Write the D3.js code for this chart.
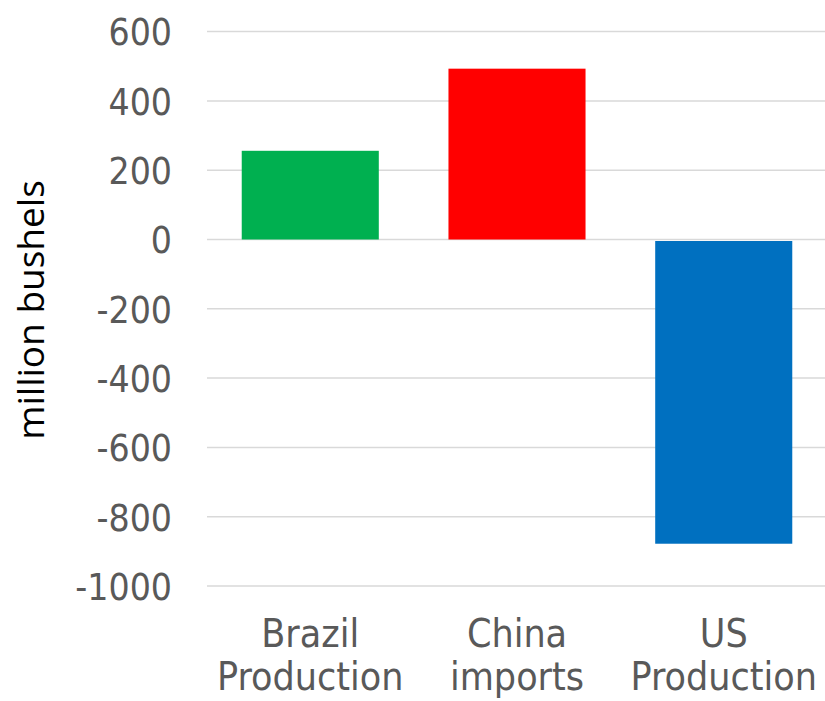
<!DOCTYPE html>
<html>
<head>
<meta charset="utf-8">
<script src="https://cdn.jsdelivr.net/npm/d3@7"></script>
<style>
  body { margin: 0; background: #fff; }
  svg { display: block; }
</style>
</head>
<body>
<svg></svg>
<script>
// data
let categories = [["Brazil", "Production"], ["China", "imports"], ["US", "Production"]],
    values = [256, 493, -878],
    colors = ["#00b050", "#ff0000", "#0070c0"],
    yTicks = [600, 400, 200, 0, -200, -400, -600, -800, -1000];

let width = 825, height = 701,
    margin = {top: 32, right: -2, bottom: 115, left: 207};

let svg = d3.select("svg")
    .attr("width", width)
    .attr("height", height);

let xScale = d3.scaleBand()
    .domain(d3.range(categories.length))
    .range([margin.left, width - margin.right])
    .paddingInner(0.337)
    .paddingOuter(0.168);

let yScale = d3.scaleLinear()
    .domain([-1000, 600])
    .range([586, 31.6]);

// gridlines
svg.append("g")
  .selectAll("line")
  .data(yTicks)
  .enter()
  .append("line")
    .attr("x1", margin.left)
    .attr("x2", width)
    .attr("y1", d => yScale(d))
    .attr("y2", d => yScale(d))
    .attr("stroke", "#d9d9d9")
    .attr("stroke-width", 1.5);

// y axis labels
let yAxis = d3.axisLeft(yScale).tickValues(yTicks).tickFormat(d => String(d)).tickSize(0).tickPadding(0);
let yG = svg.append("g")
    .attr("transform", `translate(172,0)`)
    .call(yAxis);
yG.select(".domain").remove();
yG.selectAll("text")
    .attr("fill", "#595959")
    .attr("dy", "0.36em")
    .style("font-family", "DejaVu Sans Condensed")
    .style("font-size", "37px");

// bars
svg.append("g")
  .selectAll("rect")
  .data(values)
  .enter()
  .append("rect")
    .attr("x", (d, i) => xScale(i))
    .attr("width", xScale.bandwidth())
    .attr("y", d => d > 0 ? yScale(d) : yScale(0) + 1.5)
    .attr("height", d => Math.abs(yScale(d) - yScale(0)) - (d > 0 ? 0 : 1.5))
    .attr("fill", (d, i) => colors[i]);

// category labels
let cat = svg.append("g")
  .selectAll("text")
  .data(categories)
  .enter()
  .append("text")
    .attr("x", (d, i) => xScale(i) + xScale.bandwidth() / 2)
    .attr("y", 647)
    .attr("fill", "#595959")
    .style("text-anchor", "middle")
    .style("font-family", "DejaVu Sans Condensed")
    .style("font-size", "39px");
cat.selectAll("tspan")
  .data(d => d)
  .enter()
  .append("tspan")
    .attr("x", function() { return this.parentNode.getAttribute("x"); })
    .attr("dy", (d, i) => i === 0 ? 0 : "1.1em")
    .text(d => d);

// y title
svg.append("text")
  .attr("transform", `translate(44,310) rotate(-90)`)
  .text("million bushels")
  .attr("fill", "#000")
  .style("text-anchor", "middle")
  .style("font-family", "Open Sans")
  .style("font-size", "37px");
</script>
</body>
</html>
